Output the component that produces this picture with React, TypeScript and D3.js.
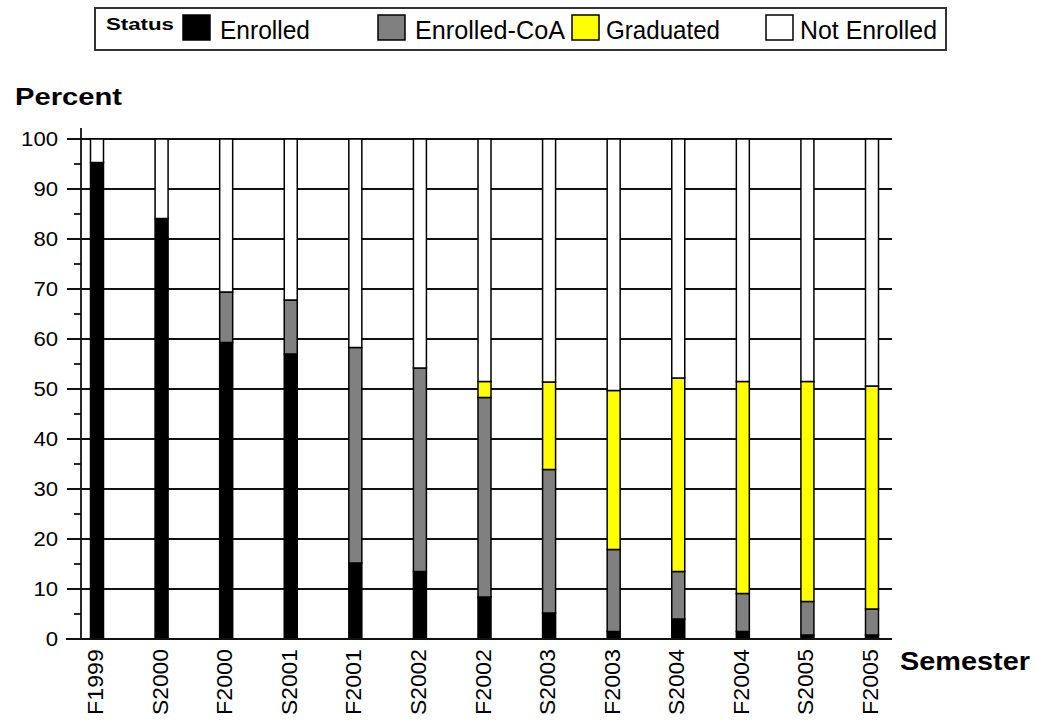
import React from "react";
import * as d3 from "d3";

const categories = ["F1999","S2000","F2000","S2001","F2001","S2002","F2002","S2003","F2003","S2004","F2004","S2005","F2005"];
const enrolled = [95.3, 84.1, 59.3, 57.0, 15.2, 13.5, 8.4, 5.2, 1.5, 4.0, 1.5, 0.8, 0.8];
const enrolledCoA = [0, 0, 10.1, 10.8, 43.1, 40.7, 39.9, 28.7, 16.4, 9.5, 7.6, 6.7, 5.2];
const graduated = [0, 0, 0, 0, 0, 0, 3.2, 17.5, 31.8, 38.7, 42.4, 44.0, 44.6];
const notEnrolled = categories.map((_, i) => 100 - enrolled[i] - enrolledCoA[i] - graduated[i]);

const seriesKeys = ["Enrolled", "Enrolled-CoA", "Graduated", "Not Enrolled"];
const seriesColors = ["#000000", "#808080", "#FFFF00", "#FFFFFF"];
const yTicks = [0, 10, 20, 30, 40, 50, 60, 70, 80, 90, 100];
const yMinorTicks = [5, 15, 25, 35, 45, 55, 65, 75, 85, 95];

const FONT = "'Liberation Sans', Arial, sans-serif";

export default function App() {
  const rows = categories.map((c, i) => ({
    cat: c,
    "Enrolled": enrolled[i],
    "Enrolled-CoA": enrolledCoA[i],
    "Graduated": graduated[i],
    "Not Enrolled": notEnrolled[i],
  }));
  const stacked = d3.stack<any>().keys(seriesKeys)(rows);

  const y = d3.scaleLinear().domain([0, 100]).range([639, 139]);
  const x = d3.scalePoint<string>().domain(categories).range([97, 872]);
  const barW = 13;
  const plotLeft = 67;
  const axisX = 81;
  const plotRight = 892;

  const legendItems = [
    { key: "Enrolled", sx: 183, tx: 220, tw: 90 },
    { key: "Enrolled-CoA", sx: 378, tx: 415, tw: 150 },
    { key: "Graduated", sx: 572, tx: 606, tw: 114 },
    { key: "Not Enrolled", sx: 766, tx: 800, tw: 137 },
  ];

  return (
    <svg width={1037} height={722} style={{ position: "absolute", left: 0, top: 0, background: "#fff" }} fontFamily={FONT}>
      <rect x={0} y={0} width={1037} height={722} fill="#fff" />
      {/* Legend */}
      <rect x={95} y={8} width={851} height={42} fill="#fff" stroke="#333" strokeWidth={2} />
      <text x={106} y={30} fontSize={17} fontWeight="bold" textLength={68} lengthAdjust="spacingAndGlyphs">Status</text>
      {legendItems.map((it) => (
        <g key={it.key}>
          <rect x={it.sx} y={15} width={27} height={25} fill={seriesColors[seriesKeys.indexOf(it.key)]} stroke="#000" strokeWidth={1.5} />
          <text x={it.tx} y={39} fontSize={26} textLength={it.tw} lengthAdjust="spacingAndGlyphs">{it.key}</text>
        </g>
      ))}

      {/* Y title */}
      <text x={15} y={105} fontSize={23} fontWeight="bold" textLength={107} lengthAdjust="spacingAndGlyphs">Percent</text>

      {/* Gridlines */}
      {yTicks.map((t) => (
        <line key={"g" + t} x1={plotLeft} x2={plotRight} y1={y(t)} y2={y(t)} stroke="#111" strokeWidth={1.8} />
      ))}
      {yMinorTicks.map((t) => (
        <line key={"m" + t} x1={74} x2={axisX} y1={y(t)} y2={y(t)} stroke="#111" strokeWidth={1.8} />
      ))}
      <line x1={axisX} x2={axisX} y1={128} y2={640} stroke="#111" strokeWidth={1.8} />

      {/* Y tick labels */}
      {yTicks.map((t) => (
        <text key={"l" + t} x={58} y={y(t) + 7} fontSize={20} textAnchor="end"
          textLength={String(t).length * 12.3} lengthAdjust="spacingAndGlyphs">{t}</text>
      ))}

      {/* Bars */}
      {stacked.map((s, si) => (
        <g key={s.key}>
          {s.map((d, i) => {
            const h = y(d[0]) - y(d[1]);
            if (h <= 0.01) return null;
            const cx = x(categories[i])!;
            return (
              <rect key={i} x={cx - barW / 2} y={y(d[1])} width={barW} height={h}
                fill={seriesColors[si]} stroke="#000" strokeWidth={1.5} />
            );
          })}
        </g>
      ))}
      <line x1={66} x2={plotRight} y1={y(0)} y2={y(0)} stroke="#111" strokeWidth={1.8} />

      {/* X tick labels */}
      {categories.map((c) => {
        const cx = x(c)! + 6;
        return (
          <text key={c} transform={`translate(${cx},649) rotate(-90)`} fontSize={22} textAnchor="end"
            textLength={66} lengthAdjust="spacingAndGlyphs">{c}</text>
        );
      })}

      {/* X title */}
      <text x={900} y={670} fontSize={26} fontWeight="bold" textLength={130} lengthAdjust="spacingAndGlyphs">Semester</text>
    </svg>
  );
}
